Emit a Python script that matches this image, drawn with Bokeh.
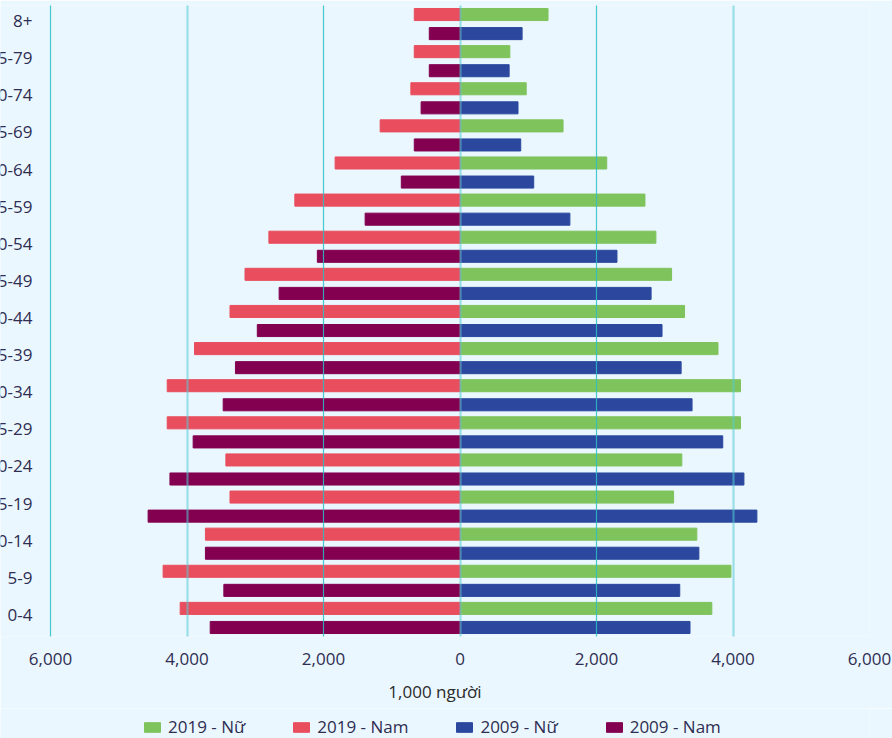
from bokeh.plotting import figure
from bokeh.layouts import column
from bokeh.models import (ColumnDataSource, FactorRange, Range1d, FixedTicker,
                          Legend, LegendItem, Grid)
from bokeh.core.properties import value
from bokeh.transform import dodge
from bokeh.embed import file_html
from bokeh.resources import INLINE

# ---- data (thousand persons) ----
age_groups = ["0-4", "5-9", "10-14", "15-19", "20-24", "25-29", "30-34", "35-39",
              "40-44", "45-49", "50-54", "55-59", "60-64", "65-69", "70-74", "75-79", "8+"]
# labels as visible in the (left-cropped) picture
age_labels_shown = ["0-4", "5-9", "0-14", "5-19", "0-24", "5-29", "0-34", "5-39",
                    "0-44", "5-49", "0-54", "5-59", "0-64", "5-69", "0-74", "5-79", "8+"]

female_2019 = [3690, 3970, 3470, 3130, 3250, 4110, 4110, 3780, 3290, 3100, 2870, 2710, 2150, 1510, 970, 730, 1290]
male_2019   = [4100, 4350, 3730, 3370, 3430, 4290, 4290, 3890, 3370, 3150, 2800, 2420, 1830, 1170, 720, 670, 670]
female_2009 = [3370, 3220, 3500, 4350, 4160, 3850, 3400, 3240, 2960, 2800, 2300, 1610, 1080, 890, 850, 720, 910]
male_2009   = [3660, 3460, 3730, 4570, 4250, 3910, 3470, 3290, 2970, 2650, 2090, 1390, 860, 670, 570, 450, 450]

x_ticks = [-6000, -4000, -2000, 0, 2000, 4000, 6000]
x_tick_labels = ["6,000", "4,000", "2,000", "0", "2,000", "4,000", "6,000"]

series_names = ["2019 - Nữ", "2019 - Nam", "2009 - Nữ", "2009 - Nam"]
series_colors = ["#7FC35D", "#E94E5E", "#2B489E", "#830050"]

BG = "#EAF7FE"
TEXT = "#2F2D52"
FONT = "Open Sans"

W = 892
H_MAIN, H_LEG = 708, 30
BORDER_R = 23
LEFT_PAD_PX = 50          # room, inside the frame, for the (cropped) age labels
frame_w = W - BORDER_R
span = x_ticks[-1] - x_ticks[0]
x_start = x_ticks[0] - LEFT_PAD_PX * span / (frame_w - LEFT_PAD_PX)

source = ColumnDataSource(dict(
    age=age_groups,
    label=age_labels_shown,
    f2019=female_2019,
    m2019=[-v for v in male_2019],
    f2009=female_2009,
    m2009=[-v for v in male_2009],
    anchor=[x_ticks[0]] * len(age_groups),
))

p = figure(width=W, height=H_MAIN,
           y_range=FactorRange(factors=age_groups),
           x_range=Range1d(x_start, x_ticks[-1]),
           output_backend="svg", toolbar_location=None,
           min_border_left=0, min_border_right=BORDER_R, min_border_top=5,
           min_border_bottom=72)

p.background_fill_color = BG
p.border_fill_color = BG
p.outline_line_color = None

off = 0.257
h = 0.325
bar_specs = [("f2019", off, True), ("m2019", off, False),
             ("f2009", -off, True), ("m2009", -off, False)]
for (col, dy, right_side), color in zip(bar_specs, series_colors):
    if right_side:
        p.hbar(y=dodge("age", dy, range=p.y_range), left=0, right=col, height=h,
               color=color, source=source)
    else:
        p.hbar(y=dodge("age", dy, range=p.y_range), left=col, right=0, height=h,
               color=color, source=source)

# age labels, right-aligned left of the -6000 gridline (cropped at the left edge)
p.text(x="anchor", y="age", text="label", source=source,
       x_offset=-18, y_offset=-3, text_align="right", text_baseline="middle",
       text_font=value(FONT), text_font_size=value("17px"), text_color=TEXT)

# grid drawn over bars: crisp lines and softer, wider lines (as in the picture)
p.xgrid.ticker = FixedTicker(ticks=x_ticks[0::2])
p.xgrid.grid_line_color = "#2BBFC4"
p.xgrid.grid_line_alpha = 0.85
p.xgrid.grid_line_width = 1.2
p.xgrid.level = "overlay"
p.ygrid.visible = False
soft_grid = Grid(dimension=0, ticker=FixedTicker(ticks=x_ticks[1::2]),
                 grid_line_color="#55CCD4", grid_line_alpha=0.55, grid_line_width=2.2,
                 level="overlay")
p.add_layout(soft_grid)

# x axis
p.xaxis.ticker = FixedTicker(ticks=x_ticks)
p.xaxis.major_label_overrides = {t: l for t, l in zip(x_ticks, x_tick_labels)}
p.xaxis.axis_line_color = None
p.xaxis.major_tick_line_color = None
p.xaxis.minor_tick_line_color = None
p.xaxis.major_label_standoff = 10
p.xaxis.major_label_text_font = FONT
p.xaxis.major_label_text_font_size = "17px"
p.xaxis.major_label_text_color = TEXT
p.xaxis.axis_label = "1,000 người"
p.xaxis.axis_label_text_font = FONT
p.xaxis.axis_label_text_font_size = "17px"
p.xaxis.axis_label_text_font_style = "normal"
p.xaxis.axis_label_text_color = "#2B2B2B"
p.xaxis.axis_label_standoff = 12

p.yaxis.visible = False

# ---- legend strip (its renderers are hidden; only the legend shows) ----
pl = figure(width=W, height=H_LEG, output_backend="svg", toolbar_location=None,
            x_axis_type=None, y_axis_type=None,
            y_range=FactorRange(factors=age_groups),
            min_border_left=0, min_border_right=0, min_border_top=0, min_border_bottom=0)
pl.background_fill_color = BG
pl.border_fill_color = BG
pl.outline_line_color = None
pl.xgrid.visible = False
pl.ygrid.visible = False

items = []
for name, (col, dy, right_side), color in zip(series_names, bar_specs, series_colors):
    r = pl.hbar(y="age", left=0, right=col, height=h, color=color, source=source,
                visible=False)
    items.append(LegendItem(label=name, renderers=[r]))

legend = Legend(items=items, orientation="horizontal", location=(142, 0),
                glyph_width=20, glyph_height=12, label_standoff=6, spacing=46,
                padding=0, margin=0, background_fill_alpha=0, border_line_alpha=0,
                inactive_fill_alpha=0,
                label_text_font=FONT, label_text_font_size="17px", label_text_color=TEXT)
pl.add_layout(legend)

layout = column(p, pl, spacing=0)
open("out.html", "w").write(file_html(layout, INLINE))
